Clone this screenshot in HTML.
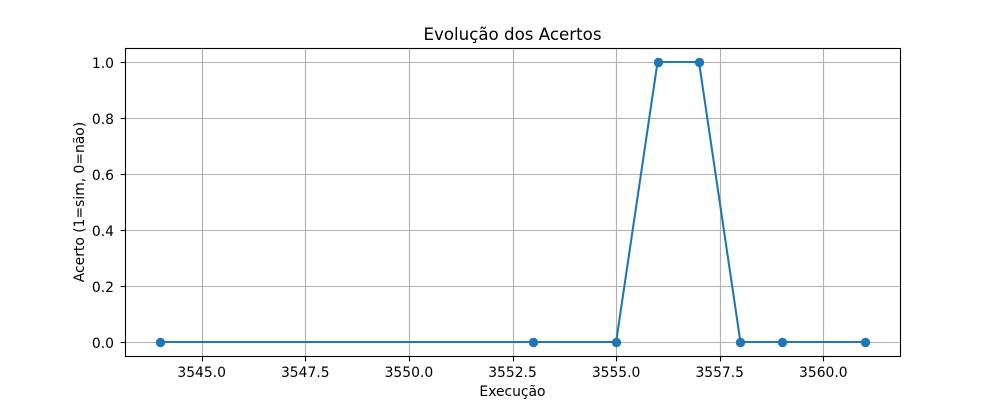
<!DOCTYPE html>
<html>
<head>
<meta charset="utf-8">
<style>
html,body{margin:0;padding:0;background:#fff;}
svg{display:block;}
text{font-family:"DejaVu Sans",sans-serif;fill:#000;}
</style>
</head>
<body>
<svg id="chart" xmlns="http://www.w3.org/2000/svg" width="1000" height="400" viewBox="0 0 1000 400"></svg>
<script>
const runs = [3544, 3553, 3555, 3556, 3557, 3558, 3559, 3561];
const hits = [0, 0, 0, 1, 1, 0, 0, 0];
const xTicks = [3545, 3547.5, 3550, 3552.5, 3555, 3557.5, 3560];
const yTicks = [0, 0.2, 0.4, 0.6, 0.8, 1];

const plotLeft = 125, plotRight = 900, plotTop = 48, plotBottom = 356;
const margin = 0.05;
const xMin = Math.min(...runs), xMax = Math.max(...runs);
const yMin = Math.min(...hits), yMax = Math.max(...hits);
const xPad = (xMax - xMin) * margin, yPad = (yMax - yMin) * margin;
function xScale(v) {
  return plotLeft + (v - (xMin - xPad)) / ((xMax + xPad) - (xMin - xPad)) * (plotRight - plotLeft);
}
function yScale(v) {
  return plotBottom - (v - (yMin - yPad)) / ((yMax + yPad) - (yMin - yPad)) * (plotBottom - plotTop);
}
const NS = 'http://www.w3.org/2000/svg';
const svg = document.getElementById('chart');
function make(tag, attrs, text) {
  const el = document.createElementNS(NS, tag);
  for (const k in attrs) el.setAttribute(k, attrs[k]);
  if (text !== undefined) el.textContent = text;
  svg.appendChild(el);
  return el;
}
const snap = v => Math.floor(v + 0.5) + 0.5;

xTicks.forEach(t => {
  const x = snap(xScale(t));
  const g = make('line', {x1: x, x2: x, y1: plotTop, y2: plotBottom, stroke: '#b0b0b0', 'stroke-width': 1.11});
  
  
});
yTicks.forEach(t => {
  const y = snap(yScale(t));
  const g = make('line', {x1: plotLeft, x2: plotRight, y1: y, y2: y, stroke: '#b0b0b0', 'stroke-width': 1.11});
  
  
});

const line = make('polyline', {
  points: runs.map((r, i) => xScale(r) + ',' + yScale(hits[i])).join(' '),
  fill: 'none', stroke: '#1f77b4', 'stroke-width': 2.08, 'stroke-linejoin': 'round', 'stroke-linecap': 'square'
});



runs.forEach((r, i) => {
  const c = make('circle', {cx: snap(xScale(r)), cy: snap(yScale(hits[i])), r: 4.17, fill: '#1f77b4', stroke: '#1f77b4', 'stroke-width': 1.04});
  
  
});

const frame = make('rect', {x: plotLeft + 0.5, y: plotTop + 0.5, width: plotRight - plotLeft, height: plotBottom - plotTop, fill: 'none', stroke: '#000', 'stroke-width': 1.11});



xTicks.forEach(t => {
  const x = snap(xScale(t));
  const m = make('line', {x1: x, x2: x, y1: plotBottom + 0.5, y2: plotBottom + 5.4, stroke: '#000', 'stroke-width': 1.11});
  
  
  const l = make('text', {x: xScale(t), y: 377, 'text-anchor': 'middle', 'font-size': 13.89}, t.toFixed(1));
  
  
});
yTicks.forEach(t => {
  const y = snap(yScale(t));
  const m = make('line', {x1: plotLeft - 4.4, x2: plotLeft + 0.5, y1: y, y2: y, stroke: '#000', 'stroke-width': 1.11});
  
  
  const l = make('text', {x: 114, y: yScale(t) + 6, 'text-anchor': 'end', 'font-size': 13.89}, t.toFixed(1));
  
  
});
</script>
<script>
(function () {
  const NSX = 'http://www.w3.org/2000/svg';
  const host = document.getElementById('chart');
  const title = document.createElementNS(NSX, 'text');
  title.setAttribute('x', '512.5');
  title.setAttribute('y', '40');
  title.setAttribute('text-anchor', 'middle');
  title.setAttribute('font-size', '16.67');
  title.textContent = 'Evolução dos Acertos';
  
  
  host.appendChild(title);
  const xt = document.createElementNS(NSX, 'text');
  xt.setAttribute('x', '512.5');
  xt.setAttribute('y', '396');
  xt.setAttribute('text-anchor', 'middle');
  xt.setAttribute('font-size', '13.89');
  xt.textContent = 'Execução';
  
  
  host.appendChild(xt);
  const yt = document.createElementNS(NSX, 'text');
  yt.setAttribute('transform', 'translate(84,202) rotate(-90)');
  yt.setAttribute('text-anchor', 'middle');
  yt.setAttribute('font-size', '13.89');
  yt.textContent = 'Acerto (1=sim, 0=não)';
  
  
  host.appendChild(yt);
})();
</script>
</body>
</html>
